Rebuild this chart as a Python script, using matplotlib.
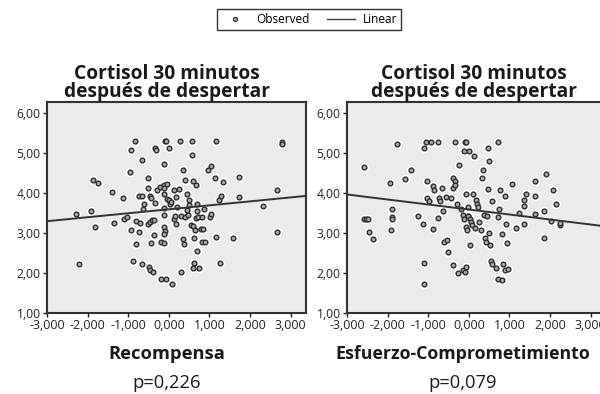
import numpy as np
import matplotlib
matplotlib.use("Agg")
import matplotlib.pyplot as plt
from matplotlib.lines import Line2D
from matplotlib.ticker import FuncFormatter

plt.rcParams['font.family'] = ['Open Sans', 'DejaVu Sans']

# Recompensa vs cortisol
rec_x = [-2.29, -2.20, -1.92, -1.87, -1.75, -1.82, -1.40, -1.35, -1.14, -1.11, -1.03, -0.95, -0.93, -0.94, -0.87,
         -0.82, -0.80, -0.80, -0.74, -0.71, -0.74, -0.67, -0.65, -0.66, -0.61, -0.63, -0.51, -0.50, -0.46, -0.45,
         -0.50, -0.47, -0.41, -0.37, -0.49, -0.43, -0.36, -0.46, -0.38, -0.33, -0.31, -0.33, -0.28, -0.21, -0.18,
         -0.13, -0.13, -0.11, -0.11, -0.18, -0.11, -0.13, -0.13, -0.11, -0.10, -0.12, -0.09, -0.06, -0.06, -0.05,
         -0.04, 0.00, 0.00, 0.04, 0.06, 0.08, 0.13, 0.14, 0.16, 0.18, 0.18, 0.21, 0.25, 0.28, 0.29,
         0.31, 0.34, 0.36, 0.38, 0.39, 0.41, 0.45, 0.44, 0.47, 0.49, 0.50, 0.56, 0.56, 0.55, 0.59,
         0.60, 0.59, 0.63, 0.63, 0.65, 0.67, 0.68, 0.70, 0.70, 0.69, 0.71, 0.75, 0.79, 0.81, 0.83,
         0.84, 0.87, 0.88, 0.96, 1.02, 1.04, 1.05, 1.13, 1.16, 1.16, 1.23, 1.27, 1.29, 1.34, 1.58,
         1.73, 1.74, 2.31, 2.66, 2.67, 2.80, 2.80]
rec_y = [3.48, 2.22, 3.55, 4.32, 4.25, 3.14, 4.01, 3.24, 3.86, 3.36, 3.40, 4.52, 5.08, 3.08, 2.29,
         5.29, 3.30, 2.72, 3.93, 3.25, 3.03, 4.81, 3.93, 2.23, 3.73, 3.60, 4.37, 4.12, 3.92, 3.88,
         3.23, 3.27, 3.32, 3.32, 2.15, 2.76, 2.94, 2.08, 2.03, 5.13, 5.07, 3.75, 4.08, 4.15, 1.86,
         4.72, 4.19, 4.11, 3.96, 2.78, 2.75, 3.63, 3.46, 3.15, 3.05, 2.98, 5.29, 5.29, 1.86, 4.21,
         3.84, 5.13, 3.82, 3.73, 3.77, 1.73, 4.07, 3.36, 3.42, 3.23, 3.90, 3.65, 4.09, 5.29, 3.42,
         2.03, 4.58, 2.85, 2.73, 3.40, 4.32, 3.57, 3.98, 3.44, 3.82, 3.69, 5.29, 4.94, 3.19, 3.17,
         4.29, 2.13, 2.25, 2.87, 3.08, 4.19, 3.38, 3.73, 3.55, 2.54, 3.40, 2.13, 3.11, 2.77, 3.40,
         3.11, 3.60, 2.77, 4.58, 3.40, 4.67, 3.48, 4.36, 5.29, 2.90, 3.82, 2.25, 3.92, 4.28, 2.88,
         3.90, 4.39, 3.67, 4.08, 3.03, 5.28, 5.23]

# Esfuerzo-Comprometimiento vs cortisol
esf_x = [-2.59, -2.59, -2.53, -2.49, -2.47, -2.37, -1.94, -1.88, -1.88, -1.89, -1.92, -1.76, -1.57, -1.43, -1.24,
         -1.12, -1.10, -1.05, -1.10, -1.11, -1.04, -1.04, -0.99, -0.92, -0.89, -0.86, -0.88, -0.77, -0.76, -0.74,
         -0.72, -0.67, -0.64, -0.60, -0.56, -0.54, -0.51, -0.44, -0.38, -0.35, -0.40, -0.38, -0.35, -0.33, -0.30,
         -0.27, -0.23, -0.18, -0.15, -0.13, -0.15, -0.11, -0.09, -0.07, -0.07, -0.09, -0.07, -0.06, -0.03, -0.02,
         -0.02, -0.04, 0.01, 0.03, 0.02, 0.05, 0.08, 0.11, 0.14, 0.15, 0.17, 0.20, 0.22, 0.25, 0.29,
         0.33, 0.36, 0.38, 0.41, 0.43, 0.46, 0.47, 0.48, 0.50, 0.50, 0.52, 0.54, 0.56, 0.58, 0.66,
         0.71, 0.73, 0.75, 0.76, 0.72, 0.81, 0.83, 0.84, 0.89, 0.90, 0.91, 0.93, 0.96, 1.07, 1.17,
         1.24, 1.36, 1.37, 1.37, 1.42, 1.62, 1.63, 1.63, 1.85, 1.86, 1.89, 2.02, 2.08, 2.14, 2.24,
         2.25]
esf_y = [4.64, 3.34, 3.35, 3.35, 3.03, 2.85, 4.25, 3.61, 3.40, 3.35, 3.08, 5.23, 4.34, 4.57, 3.43,
         3.23, 5.11, 5.28, 2.26, 1.73, 4.29, 3.88, 3.80, 5.28, 4.17, 4.07, 3.09, 5.28, 3.38, 3.88,
         3.80, 4.13, 3.54, 2.77, 3.90, 2.82, 2.53, 3.88, 2.21, 5.28, 4.11, 4.38, 4.30, 4.19, 3.73,
         2.01, 4.70, 3.61, 3.46, 5.04, 2.08, 3.35, 5.28, 5.28, 3.98, 2.03, 2.15, 3.15, 3.65, 3.43,
         3.42, 3.07, 5.04, 2.71, 3.36, 3.28, 3.19, 3.98, 4.92, 3.13, 3.82, 3.72, 3.65, 3.28, 3.07,
         4.36, 4.57, 3.44, 2.88, 2.78, 3.42, 4.10, 5.11, 4.79, 3.00, 2.69, 2.29, 2.23, 3.79, 2.13,
         5.28, 3.40, 3.61, 4.07, 1.84, 1.83, 2.98, 2.22, 2.07, 3.92, 3.23, 2.76, 2.11, 4.23, 3.13,
         3.50, 3.83, 3.67, 3.23, 3.98, 4.30, 3.92, 3.47, 3.54, 2.88, 4.48, 3.29, 4.07, 3.73, 3.21,
         3.25]

# linear fit lines (intercept, slope)
rec_fit = [3.59, 0.099]
esf_fit = [3.585, -0.125]

panels = [
    (rec_x, rec_y, rec_fit, "Recompensa", "p=0,226"),
    (esf_x, esf_y, esf_fit, "Esfuerzo-Comprometimiento", "p=0,079"),
]

fig = plt.figure(figsize=(6.0, 3.94), dpi=100)
fig.patch.set_facecolor("white")

lefts = [47 / 600, 347 / 600]
title_x = [0.462, 0.49]   # SPSS centres titles on the whole panel, not the frame
label_x = [0.462, 0.445]
label_fs = [13.2, 12.8]
for i, (xs, ys, fit, xlab, ptxt) in enumerate(panels):
    ax = fig.add_axes([lefts[i], 81 / 394, 259 / 600, 211 / 394])
    ax.set_facecolor("#ebebeb")
    ax.set_xlim(-3.0, 3.38)
    ax.set_ylim(1.0, 6.27)
    # white halo under the markers
    ax.plot(xs, ys, "o", ms=5.6, mfc="white", mec="white", zorder=2)
    ax.plot(xs, ys, "o", ms=3.4, mfc="#a8a8a8", mec="#2e2e2e", mew=1.0, zorder=3)
    lx = np.array([-3.0, 3.38])
    ax.plot(lx, fit[0] + fit[1] * lx, color="#333333", lw=1.4, zorder=4)

    ax.set_xticks(np.arange(-3, 4, 1))
    ax.set_yticks(np.arange(1, 7, 1))
    ax.xaxis.set_major_formatter(FuncFormatter(lambda v, p: ("%.3f" % v).replace(".", ",")))
    ax.yaxis.set_major_formatter(FuncFormatter(lambda v, p: ("%.2f" % v).replace(".", ",")))
    ax.tick_params(axis="both", direction="out", length=3, width=1, colors="#222222",
                   labelsize=8.7, pad=1.5)
    ax.tick_params(axis="x", labelsize=8.9)
    for s in ax.spines.values():
        s.set_linewidth(1.5)
        s.set_color("#333333")

    ax.set_title("Cortisol 30 minutos\ndespués de despertar", x=title_x[i], fontsize=13.8,
                 fontweight="bold", linespacing=0.88, pad=1, color="#1a1a1a")
    ax.text(label_x[i], -0.195, xlab, transform=ax.transAxes, ha="center", va="center",
            fontsize=label_fs[i], fontweight="bold", color="#1a1a1a")
    ax.text(label_x[i], -0.33, ptxt, transform=ax.transAxes, ha="center", va="center",
            fontsize=13.2, color="#1a1a1a")

handles = [
    Line2D([], [], marker="o", ls="none", ms=3.0, mfc="#a8a8a8", mec="#3a3a3a", mew=0.9),
    Line2D([], [], color="#3a3a3a", lw=1.0),
]
fig.legend(handles, ["Observed", "Linear"], loc="center", bbox_to_anchor=(0.515, 0.951),
           ncol=2, fontsize=8.6, frameon=True, fancybox=False, edgecolor="#333333",
           handlelength=2.4, handletextpad=0.6, columnspacing=1.4, borderpad=0.35,
           framealpha=1)

fig.savefig("out.png", dpi=100)
